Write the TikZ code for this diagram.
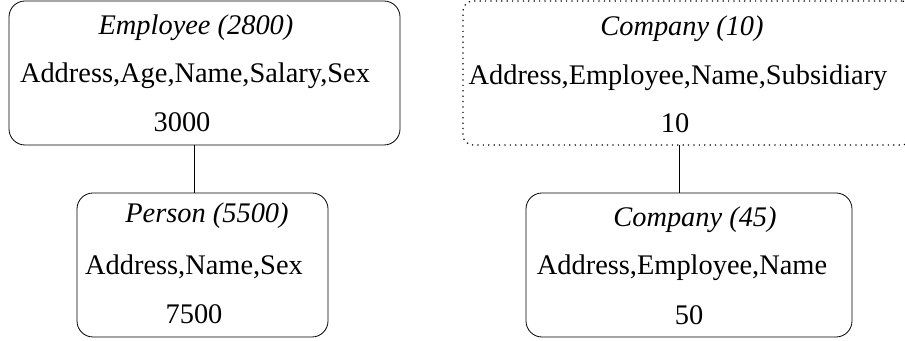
\documentclass[tikz,border=0pt]{standalone}
\usepackage{fontspec}
\setmainfont{Liberation Serif}
\begin{document}
\begin{tikzpicture}[x=0.5pt, y=-0.5pt,
    every node/.style={font=\fontsize{14.2}{17}\selectfont, inner sep=0pt, outer sep=0pt},
    classbox/.style={draw, rounded corners=8pt},
    title/.style={font=\fontsize{14.2}{17}\selectfont\itshape, anchor=base},
    attr/.style={anchor=base}]
  \useasboundingbox (0, 0) rectangle (905, 341);

  % left column: Employee over Person
  \node[classbox, minimum width=195.5pt, minimum height=72pt] (emp) at (204.5, 73) {};
  \node[title] (empT) at (196, 35) {Employee (2800)};
  \node[attr] (empA) at (195, 83) {Address,Age,Name,Salary,Sex};
  \node[attr] (empN) at (182, 132) {3000};

  \node[classbox, minimum width=125.5pt, minimum height=72pt] (per) at (202.5, 265) {};
  \node[title] (perT) at (207, 223) {Person (5500)};
  \node[attr] (perA) at (194, 275) {Address,Name,Sex};
  \node[attr] (perN) at (194, 324) {7500};

  \coordinate (j1) at (194, 145);
  \draw (j1) -- (j1 |- per.north);

  % right column: Company (dotted) over Company
  \node[classbox, dash pattern=on 0.6pt off 2.1pt, line width=0.6pt, rounded corners=5pt, minimum width=224.5pt, minimum height=72pt] (comA) at (687.5, 73) {};
  \node[title] (comAT) at (682, 36) {Company (10)};
  \node[attr] (comAA) at (678, 85) {Address,Employee,Name,Subsidiary};
  \node[attr] (comAN) at (675, 133) {10};

  \node[classbox, minimum width=163pt, minimum height=72pt] (comB) at (689, 265) {};
  \node[title] (comBT) at (695, 227) {Company (45)};
  \node[attr] (comBA) at (682, 275) {Address,Employee,Name};
  \node[attr] (comBN) at (689, 325) {50};

  \coordinate (j2) at (679, 145);
  \draw (j2) -- (j2 |- comB.north);
\end{tikzpicture}
\end{document}
